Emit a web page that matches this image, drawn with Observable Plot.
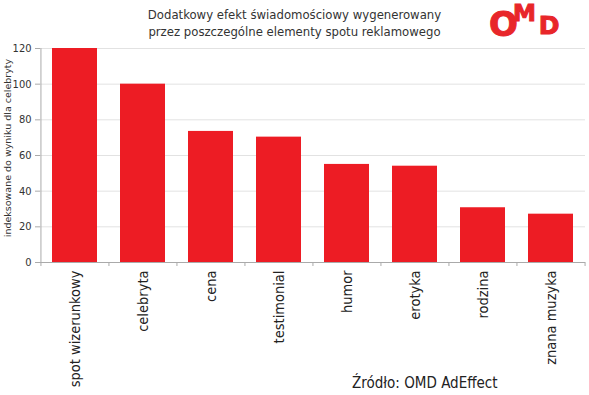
<!DOCTYPE html>
<html><head><meta charset="utf-8">
<script src="https://cdn.jsdelivr.net/npm/d3@7"></script>
<script src="https://cdn.jsdelivr.net/npm/@observablehq/plot@0.6"></script>
<style>
body{margin:0;background:#fff;font-family:"DejaVu Sans",sans-serif;}
#wrap{position:relative;width:589px;height:395px;overflow:hidden;}
.t{position:absolute;left:0;width:589px;text-align:center;color:#333;font-size:13px;font-family:"DejaVu Sans Condensed","DejaVu Sans",sans-serif;}
#src{position:absolute;left:352px;top:374px;font-size:15px;color:#222;font-family:"DejaVu Sans Condensed","DejaVu Sans",sans-serif;}
#ylab{position:absolute;left:7px;top:148px;transform:translate(-50%,-50%) rotate(-90deg);font-size:9.5px;color:#333;white-space:nowrap;font-family:"DejaVu Sans",sans-serif;}
#logo{position:absolute;left:489px;top:7px;color:#e8262a;font-family:"DejaVu Sans";font-weight:bold;font-size:34px;line-height:34px;white-space:nowrap;-webkit-text-stroke:1px #e8262a;}
#logo span{line-height:0;}
</style></head>
<body><div id="wrap">
<div class="t" style="top:7px">Dodatkowy efekt świadomościowy wygenerowany</div>
<div class="t" style="top:24px">przez poszczególne elementy spotu reklamowego</div>
<div id="logo"><span style="letter-spacing:-5px">O</span><span style="font-size:23px;vertical-align:15px;letter-spacing:3px">M</span><span style="font-size:25px;vertical-align:2px">D</span></div>
<div id="chart"></div>
<div id="ylab"></div>
<div id="src">Źródło: OMD AdEffect</div>
</div>
<script>
const categories = ["spot wizerunkowy","celebryta","cena","testimonial","humor","erotyka","rodzina","znana muzyka"];
const values = [120, 100, 73.5, 70.3, 55, 54, 30.7, 27.1];
const yTicks = [0,20,40,60,80,100,120];
const yLabel = "indeksowane do wyniku dla celebryty";
document.getElementById("ylab").textContent = yLabel;

const data = categories.map((c,i)=>({cat:c, v:values[i]}));
const W = 589, H = 395, mL = 40, mR = 4, mT = 48, mB = 133;
const step = (W - mL - mR) / categories.length;

const chart = Plot.plot({
  width: W, height: H,
  marginLeft: mL, marginRight: mR, marginTop: mT, marginBottom: mB,
  style: {fontFamily: '"DejaVu Sans Condensed", "DejaVu Sans", sans-serif', background: "transparent"},
  x: {domain: categories, paddingInner: 0.34, paddingOuter: 0.17, label: null},
  y: {domain: [0,120], label: null},
  marks: [
    Plot.ruleY(yTicks, {stroke: "#e2e2e2"}),
    Plot.barY(data, {x: "cat", y: "v", fill: "#ed1c24"}),
    Plot.ruleX(categories.slice(0,1), {x: d=>d, dx: -step/2, y1: 0, y2: 120, stroke: "#aaa"}),
    Plot.ruleY([0], {stroke: "#aaa"}),
    Plot.axisY({ticks: yTicks, tickSize: 5, tickPadding: 4, fontSize: 11, color: "#333", stroke: "#aaa"}),
    Plot.axisX({tickSize: 0, tickRotate: -90, tickPadding: 8, fontSize: 14.5, color: "#222", textAnchor: "end"}),
    Plot.axisX({ticks: categories, tickSize: 4, text: null, dx: -step/2, stroke: "#aaa"}),
    Plot.axisX({ticks: categories.slice(-1), tickSize: 4, text: null, dx: step/2, stroke: "#aaa"})
  ]
});
document.getElementById("chart").appendChild(chart);
</script>
</body></html>
